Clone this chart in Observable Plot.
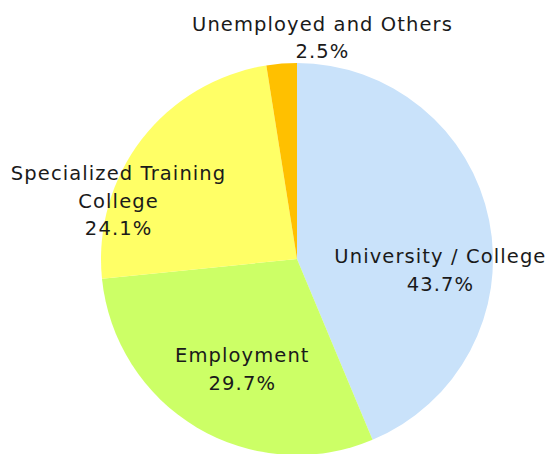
<!DOCTYPE html>
<html>
<head>
<meta charset="utf-8">
<script src="https://cdn.jsdelivr.net/npm/d3@7"></script>
<script src="https://cdn.jsdelivr.net/npm/@observablehq/plot@0.6"></script>
<style>
  html, body { margin: 0; padding: 0; background: #ffffff; }
  #chart { width: 547px; height: 454px; }
  #chart svg text { letter-spacing: 1.1px; }
</style>
</head>
<body>
<div id="chart"></div>
<script>
// Data
const categories = ["University / College", "Employment", "Specialized Training\nCollege", "Unemployed and Others"];
const values = [43.7, 29.7, 24.1, 2.5];
const valueLabels = ["43.7%", "29.7%", "24.1%", "2.5%"];
const colors = ["#c9e2fa", "#ccff66", "#ffff66", "#ffc000"];

// Layout
const W = 547, H = 454;
const CX = 297, CY = 259, R = 196;
const labelRadius = 0.65;
const labelOffsets = [[18, 34], [10, -2], [-78, 17], [35, -97]];

const table = categories.map((c, i) => ({category: c, value: values[i], label: c + "\n" + valueLabels[i], color: colors[i]}));
const arcs = d3.pie().value(d => d.value).sort(null)(table);
const labelData = arcs.map((a, i) => {
  const mid = (a.startAngle + a.endAngle) / 2;
  return {
    label: a.data.label,
    px: CX + R * labelRadius * Math.sin(mid) + labelOffsets[i][0],
    py: CY - R * labelRadius * Math.cos(mid) + labelOffsets[i][1]
  };
});

const pieMark = (index, scales) => {
  const g = d3.create("svg:g");
  const cx = scales.x(CX), cy = scales.y(CY);
  const arcGen = d3.arc().innerRadius(0).outerRadius(R);
  g.attr("transform", `translate(${cx},${cy})`)
    .selectAll("path")
    .data(arcs)
    .join("path")
    .attr("d", arcGen)
    .attr("fill", d => d.data.color)
    .attr("stroke", "none");
  return g.node();
};

const chart = Plot.plot({
  width: W,
  height: H,
  margin: 0,
  x: {type: "linear", domain: [0, W], range: [0, W], axis: null},
  y: {type: "linear", domain: [0, H], range: [0, H], axis: null},
  style: {fontFamily: "'DejaVu Sans', sans-serif", background: "#ffffff"},
  marks: [
    Plot.dot([{px: CX, py: CY}], {x: "px", y: "py", r: 0, stroke: "none"}),
    pieMark,
    Plot.text(labelData, {
      x: "px", y: "py", text: "label",
      fontSize: 19.5, lineHeight: 1.42, fill: "#1a1a1a",
      textAnchor: "middle", fontWeight: 400
    })
  ]
});
document.getElementById("chart").appendChild(chart);
</script>
</body>
</html>
